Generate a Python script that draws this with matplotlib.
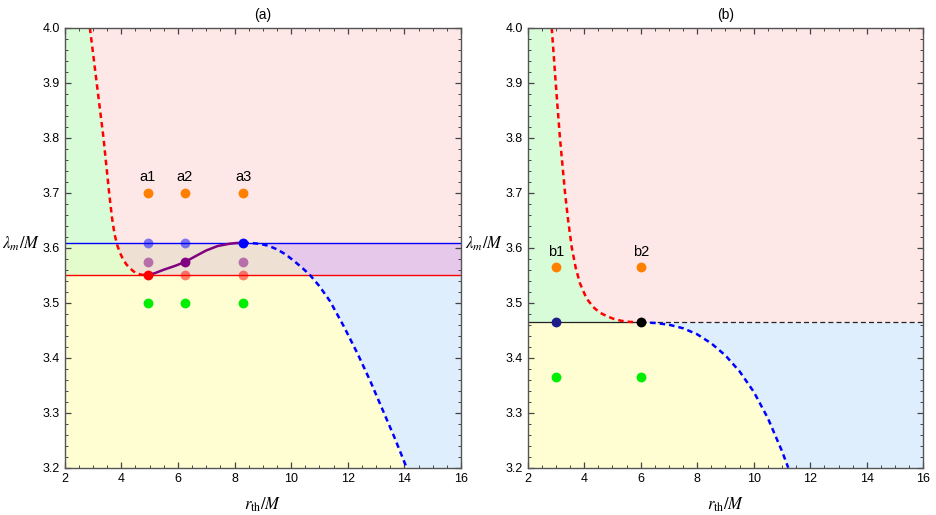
import numpy as np
import matplotlib
matplotlib.use("Agg")
import matplotlib.pyplot as plt
from matplotlib.ticker import MultipleLocator

plt.rcParams['font.family'] = ['Liberation Sans', 'DejaVu Sans']
plt.rcParams['mathtext.fontset'] = 'stix'

# ---- panel (a) data: (r_th/M, lambda_m/M) ----
a_red_r = [2.89, 3.01, 3.13, 3.25, 3.37, 3.47, 3.57, 3.67, 3.76, 3.86, 3.96, 4.07,
           4.19, 4.31, 4.43, 4.54, 4.7, 4.93]
a_red_l = [4.0, 3.95, 3.9, 3.85, 3.8, 3.75, 3.7, 3.655, 3.625, 3.604, 3.59, 3.578,
           3.569, 3.5625, 3.557, 3.5535, 3.551, 3.55]
a_pur_r = [4.93, 5.2, 5.5, 5.9, 6.25, 6.6, 7.0, 7.4, 7.8, 8.05, 8.31]
a_pur_l = [3.55, 3.554, 3.560, 3.567, 3.574, 3.584, 3.595, 3.603, 3.607, 3.6085, 3.609]
a_blu_r = [8.31, 8.6, 8.9, 9.2, 9.5, 9.8, 10.1, 10.4, 10.67, 11.0, 11.37, 11.85,
           12.35, 12.8, 13.2, 13.65, 14.08]
a_blu_l = [3.609, 3.6085, 3.607, 3.6035, 3.597, 3.588, 3.576, 3.563, 3.55, 3.53,
           3.503, 3.458, 3.407, 3.357, 3.309, 3.255, 3.2]
a_lam_hi = 3.609
a_lam_lo = 3.55
a_lam_mid = 3.574
a_x = [4.93, 6.25, 8.31]
a_labels = ['a1', 'a2', 'a3']
a_orange = 3.7
a_green = 3.5

# ---- panel (b) data ----
b_red_r = [2.85, 2.92, 2.99, 3.065, 3.14, 3.23, 3.32, 3.43, 3.56, 3.7, 3.85, 4.08,
           4.32, 4.55, 4.8, 5.05, 5.3, 5.6, 6.0]
b_red_l = [4.0, 3.95, 3.9, 3.85, 3.8, 3.75, 3.7, 3.65, 3.6, 3.563, 3.535, 3.508,
           3.492, 3.482, 3.4755, 3.4705, 3.4672, 3.4652, 3.4641]
b_blu_r = [6.0, 6.5, 7.0, 7.5, 8.0, 8.5, 9.0, 9.5, 10.0, 10.5, 11.0, 11.22]
b_blu_l = [3.4641, 3.4632, 3.46, 3.4535, 3.4425, 3.426, 3.404, 3.375, 3.338, 3.29,
           3.23, 3.2]
b_lam = 3.4641
b_x = [3.0, 6.0]
b_labels = ['b1', 'b2']
b_orange = 3.5641
b_green = 3.3641

GREEN_BG = '#d8fcd8'
PINK_BG = '#fde7e7'
YELLOW_BG = '#fefed2'
BLUE_BG = '#deeefd'
GY_BG = '#e4fbcc'
BEIGE_BG = '#efe0d4'
PURPLE_BG = '#e6c8ea'


def branch(r, l):
    # r as a function of lambda along a monotonic branch
    r = np.asarray(r)
    l = np.asarray(l)
    o = np.argsort(l)
    return lambda y: np.interp(y, l[o], r[o])


def style(ax, title):
    ax.set_xlim(2, 16)
    ax.set_ylim(3.2, 4.0)
    ax.xaxis.set_major_locator(MultipleLocator(2))
    ax.xaxis.set_minor_locator(MultipleLocator(0.5))
    ax.yaxis.set_major_locator(MultipleLocator(0.1))
    ax.yaxis.set_minor_locator(MultipleLocator(0.02))
    ax.yaxis.set_major_formatter(matplotlib.ticker.FormatStrFormatter('%.1f'))
    ax.tick_params(which='both', direction='in', top=True, right=True,
                   colors='#444444', labelcolor='black', labelsize=9)
    ax.tick_params(which='major', length=4, width=0.9)
    ax.tick_params(which='minor', length=2.3, width=0.7)
    for s in ax.spines.values():
        s.set_color('#555555')
        s.set_linewidth(1.0)
        s.set_zorder(10)
    ax.set_title(title, fontsize=10, pad=6)
    ax.set_xlabel(r'$r_{\rm th}/M$', fontsize=12, labelpad=8)
    ax.text(-0.11, 0.51, r'$\lambda_m/M$', transform=ax.transAxes,
            fontsize=12, ha='center', va='center')


fig = plt.figure(figsize=(9.36, 5.15), dpi=100)
ax1 = fig.add_axes([0.0691, 0.0918, 0.4234, 0.8544])
ax2 = fig.add_axes([0.5638, 0.0918, 0.4226, 0.8544])
dash = (0, (2.2, 1.6))
ms = 50

# ---------------- panel (a) ----------------
rr = branch(a_red_r, a_red_l)
rb = branch(a_blu_r, a_blu_l)
y = np.linspace(a_lam_hi, 4.0, 300)
ax1.fill_betweenx(y, 2, rr(y), color=GREEN_BG, lw=0)
ax1.fill_betweenx(y, rr(y), 16, color=PINK_BG, lw=0)
y = np.linspace(a_lam_lo, a_lam_hi, 100)
ax1.fill_betweenx(y, 2, rr(y), color=GY_BG, lw=0)
ax1.fill_betweenx(y, rr(y), rb(y), color=BEIGE_BG, lw=0)
ax1.fill_betweenx(y, rb(y), 16, color=PURPLE_BG, lw=0)
y = np.linspace(3.2, a_lam_lo, 300)
ax1.fill_betweenx(y, 2, rb(y), color=YELLOW_BG, lw=0)
ax1.fill_betweenx(y, rb(y), 16, color=BLUE_BG, lw=0)

ax1.axhline(a_lam_hi, color='#0000ff', lw=1.0, zorder=3)
ax1.axhline(a_lam_lo, color='#ff0000', lw=1.0, zorder=3)
ax1.plot(a_red_r, a_red_l, color='#ff0000', lw=1.8, ls=dash, zorder=4)
ax1.plot(a_blu_r, a_blu_l, color='#0000ff', lw=1.8, ls=dash, zorder=4)
ax1.plot(a_pur_r, a_pur_l, color='#800080', lw=1.8, zorder=4)

ax1.scatter(a_x, [a_orange] * 3, s=ms, color='#ff8000', zorder=5, lw=0)
ax1.scatter(a_x, [a_green] * 3, s=ms, color='#00ee00', zorder=5, lw=0)
ax1.scatter(a_x[:2], [a_lam_hi] * 2, s=ms, color='#0000ff', alpha=0.5, zorder=5, lw=0)
ax1.scatter(a_x[2:], [a_lam_hi], s=ms, color='#0000ff', zorder=5, lw=0)
ax1.scatter([a_x[0], a_x[2]], [a_lam_mid] * 2, s=ms, color='#800080', alpha=0.5, zorder=5, lw=0)
ax1.scatter(a_x[1:2], [a_lam_mid], s=ms, color='#800080', zorder=5, lw=0)
ax1.scatter(a_x[1:], [a_lam_lo] * 2, s=ms, color='#ff0000', alpha=0.5, zorder=5, lw=0)
ax1.scatter(a_x[:1], [a_lam_lo], s=ms, color='#ff0000', zorder=5, lw=0)
for x, t in zip(a_x, a_labels):
    ax1.text(x, 3.729, t, ha='center', va='center', fontsize=10.5)
style(ax1, '(a)')

# ---------------- panel (b) ----------------
rr = branch(b_red_r, b_red_l)
rb = branch(b_blu_r, b_blu_l)
y = np.linspace(b_lam, 4.0, 300)
ax2.fill_betweenx(y, 2, rr(y), color=GREEN_BG, lw=0)
ax2.fill_betweenx(y, rr(y), 16, color=PINK_BG, lw=0)
y = np.linspace(3.2, b_lam, 300)
ax2.fill_betweenx(y, 2, rb(y), color=YELLOW_BG, lw=0)
ax2.fill_betweenx(y, rb(y), 16, color=BLUE_BG, lw=0)

ax2.plot([2, b_x[1]], [b_lam, b_lam], color='#222222', lw=0.9, zorder=3)
ax2.plot([b_x[1], 16], [b_lam, b_lam], color='#222222', lw=0.9, ls=(0, (4, 2.5)), zorder=3)
ax2.plot(b_red_r, b_red_l, color='#ff0000', lw=1.8, ls=dash, zorder=4)
ax2.plot(b_blu_r, b_blu_l, color='#0000ff', lw=1.8, ls=dash, zorder=4)

ax2.scatter(b_x, [b_orange] * 2, s=ms, color='#ff8000', zorder=5, lw=0)
ax2.scatter(b_x, [b_green] * 2, s=ms, color='#00ee00', zorder=5, lw=0)
ax2.scatter(b_x[:1], [b_lam], s=ms, color='#1c1c8a', zorder=5, lw=0)
ax2.scatter(b_x[1:], [b_lam], s=ms, color='black', zorder=5, lw=0)
for x, t in zip(b_x, b_labels):
    ax2.text(x, 3.593, t, ha='center', va='center', fontsize=10.5)
style(ax2, '(b)')

fig.savefig('out.png', dpi=100)
